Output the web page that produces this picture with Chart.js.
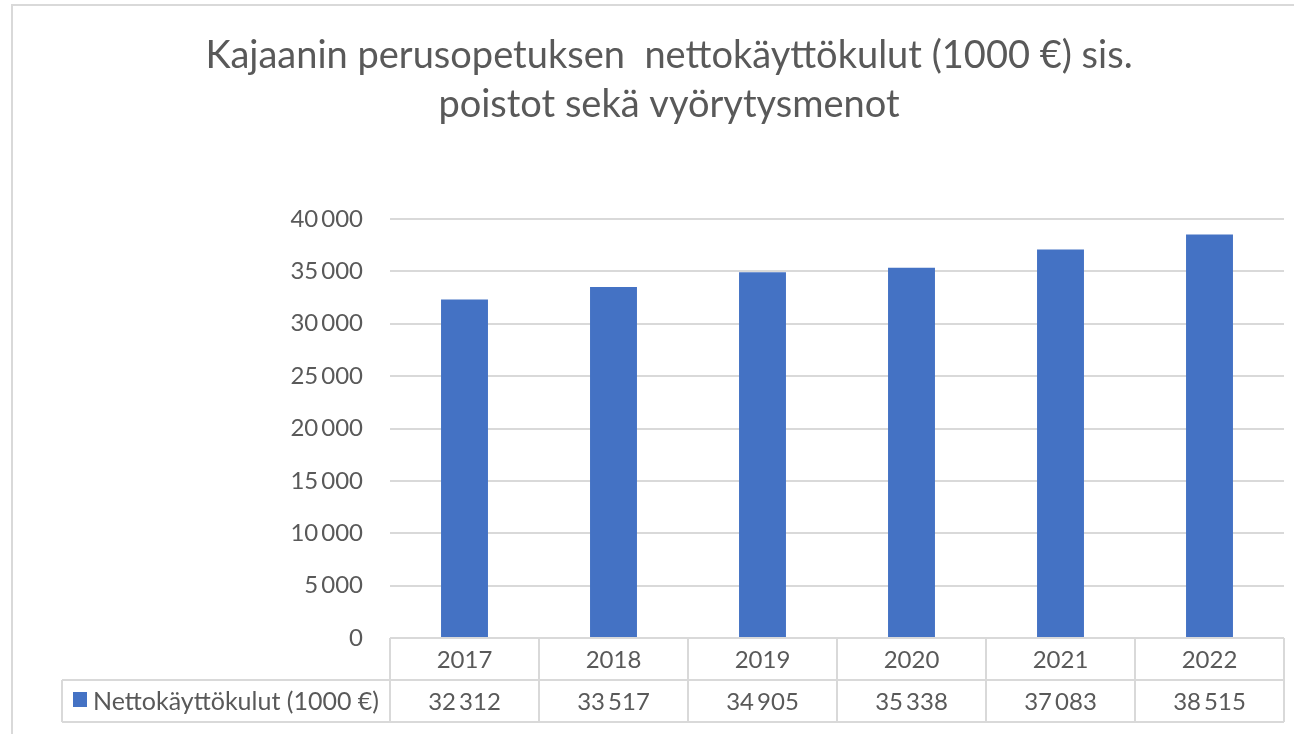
<!DOCTYPE html>
<html>
<head>
<meta charset="utf-8">
<script src="https://cdn.jsdelivr.net/npm/chart.js@4.4.0/dist/chart.umd.min.js"></script>
<style>
  html, body { margin: 0; padding: 0; background: #ffffff; }
  #wrap { width: 1294px; height: 734px; position: relative; }
</style>
</head>
<body>
<div id="wrap"><canvas id="c" width="1294" height="734"></canvas></div>
<script>
// ---- data ----
const titleLines = ["Kajaanin perusopetuksen  nettokäyttökulut (1000 €) sis.", "poistot sekä vyörytysmenot"];
const years = ["2017", "2018", "2019", "2020", "2021", "2022"];
const seriesLabel = "Nettokäyttökulut (1000 €)";
const values = [32312, 33517, 34905, 35338, 37083, 38515];
const yMin = 0, yMax = 40000, yStep = 5000;

const FONT = "Lato, 'Open Sans', sans-serif";
const TXT = "#595959";
const LINE = "#d9d9d9";
const BAR = "#4472C4";

function fmt(v) {
  return String(Math.round(v)).replace(/\B(?=(\d{3})+(?!\d))/g, "\u2009");
}

const framePlugin = {
  id: 'frame',
  beforeDraw(chart) {
    const ctx = chart.ctx;
    ctx.save();
    ctx.fillStyle = '#ffffff';
    ctx.fillRect(0, 0, chart.width, chart.height);
    ctx.strokeStyle = LINE;
    ctx.lineWidth = 2;
    ctx.beginPath();
    ctx.moveTo(12, chart.height);
    ctx.lineTo(12, 5);
    ctx.lineTo(chart.width, 5);
    ctx.stroke();
    ctx.restore();
  },
  afterDraw(chart) {
    const ctx = chart.ctx;
    const ca = chart.chartArea;
    const xs = chart.scales.x;
    ctx.save();
    // title
    ctx.fillStyle = TXT;
    ctx.font = "38px " + FONT;
    ctx.textAlign = 'center';
    ctx.textBaseline = 'alphabetic';
    ctx.fillText(titleLines[0], 669, 68);
    ctx.fillText(titleLines[1], 669, 117);

    // data table
    const step = xs.getPixelForValue(1) - xs.getPixelForValue(0);
    const top = ca.bottom;
    const rowH = 42;
    const mid = top + rowH;
    const bot = mid + rowH;
    const legLeft = 62;
    ctx.strokeStyle = LINE;
    ctx.lineWidth = 2;
    ctx.beginPath();
    ctx.moveTo(ca.left, top); ctx.lineTo(ca.right, top);
    ctx.moveTo(legLeft, mid); ctx.lineTo(ca.right, mid);
    ctx.moveTo(legLeft, bot); ctx.lineTo(ca.right, bot);
    ctx.moveTo(legLeft, mid); ctx.lineTo(legLeft, bot);
    for (let i = 0; i <= years.length; i++) {
      const x = xs.getPixelForValue(0) - step / 2 + i * step;
      ctx.moveTo(x, top); ctx.lineTo(x, bot);
    }
    ctx.stroke();

    ctx.fillStyle = TXT;
    ctx.font = "24px " + FONT;
    ctx.textAlign = 'center';
    ctx.textBaseline = 'middle';
    years.forEach((y, i) => {
      const x = xs.getPixelForValue(i);
      ctx.fillText(y, x, top + rowH / 2 + 1);
      ctx.fillText(fmt(values[i]), x, mid + rowH / 2 + 1);
    });
    // legend key
    ctx.fillStyle = BAR;
    ctx.fillRect(73, mid + 12, 14, 15);
    ctx.fillStyle = TXT;
    ctx.textAlign = 'left';
    ctx.font = "25px " + FONT;
    ctx.fillText(seriesLabel, 93, mid + rowH / 2 + 1);
    ctx.restore();
  }
};

new Chart(document.getElementById('c'), {
  type: 'bar',
  data: {
    labels: years,
    datasets: [{
      label: seriesLabel,
      data: values,
      backgroundColor: BAR,
      borderWidth: 0,
      barPercentage: 0.315,
      categoryPercentage: 1.0
    }]
  },
  options: {
    responsive: false,
    animation: false,
    devicePixelRatio: 1,
    layout: { padding: { left: 12, right: 10, top: 219, bottom: 96 } },
    plugins: {
      legend: { display: false },
      title: { display: false },
      tooltip: { enabled: false }
    },
    scales: {
      x: {
        display: false,
        grid: { display: false }
      },
      y: {
        min: yMin,
        max: yMax,
        border: { display: false },
        grid: { color: LINE, lineWidth: 2, drawTicks: false },
        afterFit(scale) { scale.width = 378; },
        ticks: {
          stepSize: yStep,
          padding: 27,
          color: TXT,
          font: { family: FONT, size: 24 },
          callback: (v) => fmt(v)
        }
      }
    }
  },
  plugins: [framePlugin]
});
</script>
</body>
</html>
